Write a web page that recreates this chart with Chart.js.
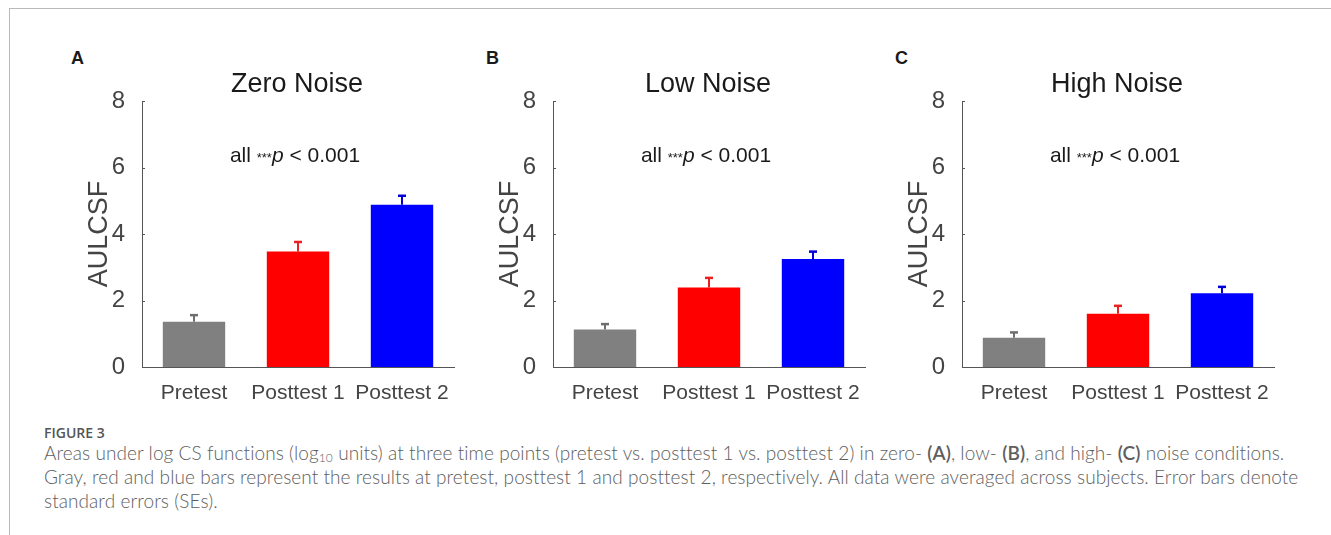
<!DOCTYPE html>
<html>
<head>
<meta charset="utf-8">
<title>Figure 3 - AULCSF</title>
<script src="https://cdn.jsdelivr.net/npm/chart.js@4.4.1/dist/chart.umd.min.js"></script>
<style>
  html, body { margin: 0; padding: 0; background: #fff; }
  body { width: 1331px; height: 535px; position: relative; overflow: hidden; }
  .frame { position: absolute; left: 9px; top: 8px; right: -10px; bottom: -10px;
           border-left: 1px solid #b9b9b9; border-top: 1px solid #b9b9b9; }
  canvas { position: absolute; top: 60px; }
  .letter { position: absolute; top: 48px; font: bold 18px 'Liberation Sans', Arial, sans-serif; color: #1a1a1a; }
  .fig { position: absolute; left: 44px; top: 426px; font: 600 14px/14px 'Open Sans', sans-serif; color: #555; }
  .caption { position: absolute; left: 44px; top: 441px; font: 300 19px/24px Lato, 'Open Sans', sans-serif;
             letter-spacing: 0.08px; color: #5e5e5e; white-space: nowrap; }
  .caption b { font-weight: 600; }
  .caption sub { font-size: 12px; vertical-align: -2px; line-height: 0; }
</style>
</head>
<body>
<div class="frame"></div>
<div class="letter" style="left:71px">A</div>
<div class="letter" style="left:486px">B</div>
<div class="letter" style="left:895px">C</div>
<canvas id="chart-a" width="389" height="352" style="left:75px"></canvas>
<canvas id="chart-b" width="389" height="352" style="left:486px"></canvas>
<canvas id="chart-c" width="389" height="352" style="left:895px"></canvas>
<div class="fig">FIGURE 3</div>
<div class="caption">Areas under log CS functions (log<sub>10</sub> units) at three time points (pretest vs. posttest 1 vs. posttest 2) in zero- <b>(A)</b>, low- <b>(B)</b>, and high- <b>(C)</b> noise conditions.<br>Gray, red and blue bars represent the results at pretest, posttest 1 and posttest 2, respectively. All data were averaged across subjects. Error bars denote<br>standard errors (SEs).</div>
<script>
// Data (AULCSF, log10 units)
const timePoints = ['Pretest', 'Posttest 1', 'Posttest 2'];
const yTicks = [0, 2, 4, 6, 8];

const zeroNoiseMean = [1.36, 3.47, 4.88];
const zeroNoiseSE = [0.20, 0.29, 0.27];

const lowNoiseMean = [1.13, 2.39, 3.25];
const lowNoiseSE = [0.16, 0.29, 0.22];

const highNoiseMean = [0.88, 1.60, 2.22];
const highNoiseSE = [0.16, 0.24, 0.19];

const barColors = ['#808080', '#ff0000', '#0000ff'];
const errColors = ['#6e6e6e', '#e82020', '#0000d8'];

Chart.defaults.font.family = "'Liberation Sans', Arial, sans-serif";

// error bars (upper half), inward y ticks, panel title and p-value note
const panelExtras = {
    id: 'panelExtras',
    afterDatasetsDraw(chart, args, opts) {
        const { ctx, chartArea, scales: { x, y } } = chart;
        const meta = chart.getDatasetMeta(0);
        const values = chart.data.datasets[0].data;
        ctx.save();

        meta.data.forEach((bar, i) => {
            const yTop = y.getPixelForValue(values[i] + opts.errors[i]);
            const yMean = y.getPixelForValue(values[i]);
            ctx.strokeStyle = errColors[i];
            ctx.lineWidth = 2;
            ctx.beginPath();
            ctx.moveTo(bar.x, yMean);
            ctx.lineTo(bar.x, yTop);
            ctx.stroke();
            ctx.lineWidth = 2.5;
            ctx.beginPath();
            ctx.moveTo(bar.x - 4, yTop);
            ctx.lineTo(bar.x + 4, yTop);
            ctx.stroke();
        });

        ctx.strokeStyle = '#555';
        ctx.lineWidth = 1;
        yTicks.forEach(v => {
            const py = Math.round(y.getPixelForValue(v)) + 0.5;
            ctx.beginPath();
            ctx.moveTo(chartArea.left, py);
            ctx.lineTo(chartArea.left + 3, py);
            ctx.stroke();
        });

        // title
        ctx.fillStyle = '#1a1a1a';
        ctx.textAlign = 'center';
        ctx.textBaseline = 'middle';
        ctx.font = "27px 'Liberation Sans', Arial, sans-serif";
        ctx.fillText(opts.title, (chartArea.left + chartArea.right) / 2 - 1, chartArea.top - 16);

        // "all ***p < 0.001"
        const parts = [
            { t: 'all ', f: "21px 'Liberation Sans', Arial, sans-serif" },
            { t: '***', f: "13px 'Liberation Sans', Arial, sans-serif" },
            { t: 'p', f: "italic 21px 'Liberation Sans', Arial, sans-serif" },
            { t: ' < 0.001', f: "21px 'Liberation Sans', Arial, sans-serif" }
        ];
        let total = 0;
        parts.forEach(p => { ctx.font = p.f; p.w = ctx.measureText(p.t).width; total += p.w; });
        let px = x.getPixelForValue(1) - 3 - total / 2;
        const baseY = y.getPixelForValue(6.4) + 7.5;
        ctx.textAlign = 'left';
        ctx.textBaseline = 'alphabetic';
        parts.forEach(p => {
            ctx.font = p.f;
            ctx.fillText(p.t, px, baseY);
            px += p.w;
        });
        ctx.restore();
    }
};

function makePanel(canvasId, title, means, errors) {
    const ctx = document.getElementById(canvasId).getContext('2d');
    return new Chart(ctx, {
        type: 'bar',
        data: {
            labels: timePoints,
            datasets: [{
                data: means,
                backgroundColor: barColors,
                borderWidth: 0,
                barPercentage: 0.6,
                categoryPercentage: 1.0
            }]
        },
        options: {
            responsive: false,
            animation: false,
            devicePixelRatio: 1,
            layout: { padding: { top: 41, right: 10, bottom: 0, left: 0 } },
            plugins: {
                legend: { display: false },
                tooltip: { enabled: false },
                panelExtras: { title: title, errors: errors }
            },
            scales: {
                x: {
                    grid: { display: false },
                    border: { color: '#555', width: 1 },
                    ticks: { color: '#444', font: { size: 21 }, padding: 6 },
                    afterFit: s => { s.height = 45; }
                },
                y: {
                    min: 0,
                    max: 8,
                    grid: { display: false },
                    border: { color: '#555', width: 1 },
                    ticks: { stepSize: 2, color: '#444', font: { size: 24 }, padding: 9 },
                    title: {
                        display: true,
                        text: 'AULCSF',
                        color: '#444',
                        font: { size: 27 },
                        padding: { top: 8, bottom: 0 }
                    },
                    afterFit: s => { s.width = 67; }
                }
            }
        },
        plugins: [panelExtras]
    });
}

makePanel('chart-a', 'Zero Noise', zeroNoiseMean, zeroNoiseSE);
makePanel('chart-b', 'Low Noise', lowNoiseMean, lowNoiseSE);
makePanel('chart-c', 'High Noise', highNoiseMean, highNoiseSE);
</script>
</body>
</html>
